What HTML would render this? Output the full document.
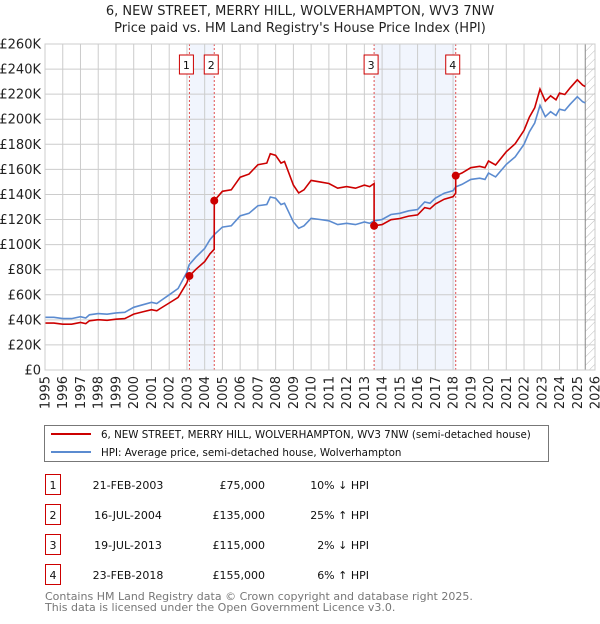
<!DOCTYPE html>
<html><head><meta charset="utf-8"><style>
body{margin:0;background:#fff;font-family:"DejaVu Sans","Liberation Sans",sans-serif;}
svg text{font-family:"DejaVu Sans","Liberation Sans",sans-serif;}
</style></head><body>
<svg id="c" width="600" height="620" xmlns="http://www.w3.org/2000/svg">
<defs><pattern id="hatch" width="6" height="6" patternUnits="userSpaceOnUse" patternTransform="rotate(45)"><line x1="0" y1="0" x2="0" y2="6" stroke="#bbb" stroke-width="1"/></pattern></defs>
<text x="300" y="15" text-anchor="middle" font-size="13" fill="#222">6, NEW STREET, MERRY HILL, WOLVERHAMPTON, WV3 7NW</text>
<text x="300" y="32" text-anchor="middle" font-size="13" fill="#222">Price paid vs. HM Land Registry's House Price Index (HPI)</text>
<g id="plot"></g>
<g>
<rect x="44.5" y="425.5" width="504" height="36" fill="#fff" stroke="#777"/>
<line x1="51" y1="434" x2="91" y2="434" stroke="#cc0000" stroke-width="2"/>
<text x="101" y="438" font-size="10.3" fill="#111">6, NEW STREET, MERRY HILL, WOLVERHAMPTON, WV3 7NW (semi-detached house)</text>
<line x1="51" y1="452" x2="91" y2="452" stroke="#5b8bd0" stroke-width="2"/>
<text x="101" y="456" font-size="10.3" fill="#111">HPI: Average price, semi-detached house, Wolverhampton</text>
</g>
<g id="table" font-size="11" fill="#111"></g>
<text x="45" y="600" font-size="11" fill="#777">Contains HM Land Registry data © Crown copyright and database right 2025.</text>
<text x="45" y="611" font-size="11" fill="#777">This data is licensed under the Open Government Licence v3.0.</text>
</svg>
<script>
const hpiYears=[1995,1995.5,1996,1996.5,1997,1997.3,1997.5,1998,1998.5,1999,1999.5,2000,2000.5,2001,2001.3,2001.5,2002,2002.5,2003,2003.13,2003.5,2004,2004.3,2004.54,2005,2005.5,2006,2006.5,2007,2007.5,2007.7,2008,2008.3,2008.5,2009,2009.3,2009.6,2010,2010.5,2011,2011.5,2012,2012.5,2013,2013.3,2013.55,2014,2014.5,2015,2015.5,2016,2016.4,2016.7,2017,2017.5,2018,2018.15,2018.5,2019,2019.5,2019.8,2020,2020.4,2021,2021.5,2022,2022.3,2022.6,2022.9,2023.2,2023.5,2023.8,2024,2024.3,2024.6,2025,2025.3,2025.45];
const hpiValues=[42,42,41,41,42.5,41.5,44,45,44.5,45.5,46,50,52,54,53,55,60,65,78,84,90,97,104,108,114,115,123,125,131,132,138,137,132,133,118,113,115,121,120,119,116,117,116,118,117,119,120,124,125,127,128,134,133,137,141,143,146,148,152,153,152,157,154,164,170,180,190,197,211,202,206,203,208,207,212,218,214,213];
const saleYears=[2003.14,2004.54,2013.55,2018.15];
const salePrices=[75,135,115,155];
const saleLabels=["1","2","3","4"];
const saleDates=["21-FEB-2003","16-JUL-2004","19-JUL-2013","23-FEB-2018"];
const salePriceText=["£75,000","£135,000","£115,000","£155,000"];
const saleHpiText=["10% ↓ HPI","25% ↑ HPI","2% ↓ HPI","6% ↑ HPI"];
const yTicks=[0,20,40,60,80,100,120,140,160,180,200,220,240,260];
const xTicks=[1995,1996,1997,1998,1999,2000,2001,2002,2003,2004,2005,2006,2007,2008,2009,2010,2011,2012,2013,2014,2015,2016,2017,2018,2019,2020,2021,2022,2023,2024,2025,2026];

const L=45,R=595,T=44,B=370,x0=1995,x1=2026,yMax=260;
const X=v=>L+(v-x0)/(x1-x0)*(R-L);
const Y=v=>B-v/yMax*(B-T);
const NS="http://www.w3.org/2000/svg";
const g=document.getElementById('plot');
function mk(tag,attrs,parent){const e=document.createElementNS(NS,tag);for(const k in attrs)e.setAttribute(k,attrs[k]);(parent||g).appendChild(e);return e;}
function hpiAt(t){for(let i=0;i<hpiYears.length-1;i++){if(t<=hpiYears[i+1]){const f=(t-hpiYears[i])/(hpiYears[i+1]-hpiYears[i]);return hpiValues[i]+f*(hpiValues[i+1]-hpiValues[i]);}}return hpiValues[hpiValues.length-1];}

for(let i=0;i<saleYears.length;i+=2){
 const r=mk('rect',{x:X(saleYears[i]),y:T,width:X(saleYears[i+1])-X(saleYears[i]),height:B-T,fill:'#eef3fc',opacity:'0.8'});
 
 
}
const hz=mk('rect',{x:X(2025.45),y:T,width:R-X(2025.45),height:B-T,fill:'url(#hatch)'});


yTicks.forEach(v=>{
 const l=mk('line',{x1:L,x2:R,y1:Y(v),y2:Y(v),stroke:'#ccc','stroke-width':1});
 
 
 const t=mk('text',{x:L-4,y:Y(v)+4.5,'text-anchor':'end','font-size':13,fill:'#222'});
 t.textContent='£'+(v===0?'0':v+'K');
 
 
});
xTicks.forEach(v=>{
 const l=mk('line',{x1:X(v),x2:X(v),y1:T,y2:B,stroke:'#ccc','stroke-width':1});
 
 
 const t=mk('text',{x:0,y:0,'text-anchor':'end','font-size':13,fill:'#222',transform:`translate(${X(v)+4.5},${B+6}) rotate(-90)`});
 t.textContent=v;
 
 
});
mk('line',{x1:X(2025.45),x2:X(2025.45),y1:T,y2:B,stroke:'#888','stroke-width':1});
saleYears.forEach((s,i)=>{
 const l=mk('line',{x1:X(s),x2:X(s),y1:T,y2:B,stroke:'#e05050','stroke-width':1,'stroke-dasharray':'2,2'});
 
 
 const cx=X(s)-3;
 const r=mk('rect',{x:cx-7,y:55,width:14,height:19,fill:'#fff',stroke:'#cc0000'});
 
 
 const t=mk('text',{x:cx,y:69,'text-anchor':'middle','font-size':11,fill:'#111'});
 t.textContent=saleLabels[i];
 
 
});
let d='';hpiYears.forEach((t,i)=>{d+=(i?'L':'M')+X(t).toFixed(1)+','+Y(hpiValues[i]).toFixed(1);});
const hp=mk('path',{d:d,fill:'none',stroke:'#5b8bd0','stroke-width':1.6});


let pd='';
function ratioAt(t){let k=0;for(let i=0;i<saleYears.length;i++)if(t>=saleYears[i])k=i;return salePrices[k]/hpiAt(saleYears[k]);}
const pts=[];
hpiYears.forEach(t=>pts.push(t));saleYears.forEach(t=>{pts.push(t-0.001);pts.push(t);});
pts.sort((a,b)=>a-b);
pts.forEach((t,i)=>{const v=hpiAt(t)*ratioAt(t);pd+=(i?'L':'M')+X(t).toFixed(1)+','+Y(v).toFixed(1);});
const pp=mk('path',{d:pd,fill:'none',stroke:'#cc0000','stroke-width':1.6});


saleYears.forEach((s,i)=>{
 const c=mk('circle',{cx:X(s),cy:Y(salePrices[i]),r:4,fill:'#cc0000'});
 
 
});
mk('rect',{x:L,y:T,width:R-L,height:B-T,fill:'none',stroke:'#ccc'});
const tb=document.getElementById('table');
saleYears.forEach((s,i)=>{
 const y=485+i*30;
 const r=mk('rect',{x:45.5,y:y-10.5,width:15,height:20,fill:'#fff',stroke:'#cc0000'},tb);
 
 
 const vals=[[53,saleLabels[i],'middle'],[128,saleDates[i],'middle'],[265,salePriceText[i],'end'],[369,saleHpiText[i],'end']];
 vals.forEach(v=>{
  const t=mk('text',{x:v[0],y:y+4,'text-anchor':v[2],'font-size':11,fill:'#111'},tb);
  t.textContent=v[1];
  
  
 });
});
</script>
</body></html>
